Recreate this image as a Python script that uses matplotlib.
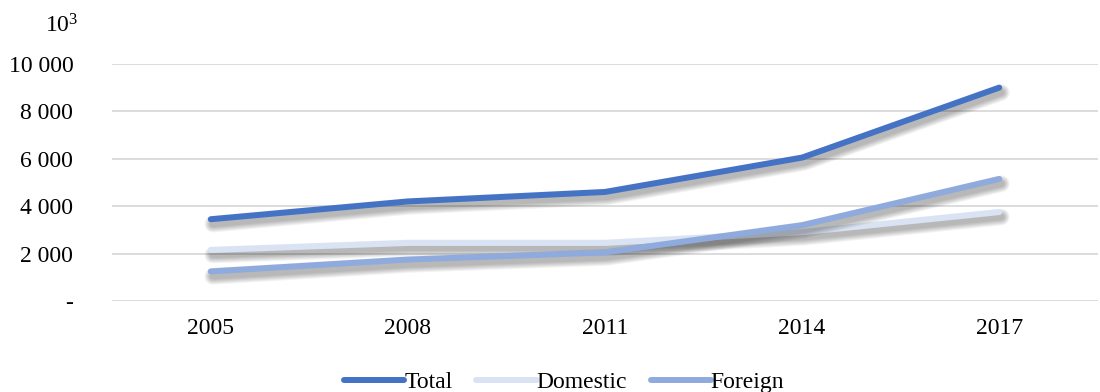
import matplotlib
matplotlib.use("Agg")
import matplotlib.pyplot as plt
import matplotlib.patheffects as pe
from matplotlib.ticker import FuncFormatter

years = ["2005", "2008", "2011", "2014", "2017"]
total = [3450, 4200, 4600, 6050, 9000]
domestic = [2150, 2450, 2450, 2900, 3750]
foreign = [1250, 1750, 2050, 3200, 5150]

series = [
    ("Total", total, "#4472C4"),
    ("Domestic", domestic, "#DAE3F3"),
    ("Foreign", foreign, "#8FAADC"),
]

plt.rcParams["font.family"] = ["Liberation Serif", "DejaVu Serif"]
plt.rcParams["mathtext.default"] = "regular"
FS = 17


def shadow():
    # soft drop shadow: stacked, widening, faint copies offset down-right
    effects = []
    for lw in [12, 10.5, 9, 7.5, 6, 4.5]:
        effects.append(pe.SimpleLineShadow(offset=(1.5, -3.5), shadow_color="black",
                                           alpha=0.05, linewidth=lw))
    effects.append(pe.Normal())
    return effects


fig = plt.figure(figsize=(11, 3.92), dpi=100)
ax = fig.add_axes([0.102, 0.232, 0.896, 0.605])

x = list(range(len(years)))
for name, vals, color in series:
    ax.plot(x, vals, color=color, lw=4.3, label=name, solid_capstyle="round",
            solid_joinstyle="round", path_effects=shadow(), clip_on=False, zorder=3)

ax.set_xlim(-0.5, len(years) - 0.5)
ax.set_ylim(0, 10000)
ax.set_yticks(range(0, 10001, 2000))
ax.yaxis.set_major_formatter(FuncFormatter(
    lambda v, p: "-" if v == 0 else f"{int(v):,}".replace(",", " ")))
ax.set_xticks(x)
ax.set_xticklabels(years)
ax.tick_params(length=0, labelsize=FS, colors="#000000")
ax.tick_params(axis="y", pad=28)
ax.tick_params(axis="x", pad=12)
ax.grid(axis="y", color="#D9D9D9", lw=1.3)
ax.set_axisbelow(True)
for s in ax.spines.values():
    s.set_visible(False)

fig.text(0.071, 0.935, "10$^{3}$", ha="right", va="center", fontsize=FS)

leg = fig.legend(loc="lower center", bbox_to_anchor=(0.513, -0.058), ncol=3, frameon=False,
                 fontsize=FS, handlelength=2.55, handletextpad=0.0, columnspacing=1.0)
for h in leg.get_lines():
    h.set_path_effects([])
    h.set_solid_capstyle("round")

fig.savefig("out.png", dpi=100)
